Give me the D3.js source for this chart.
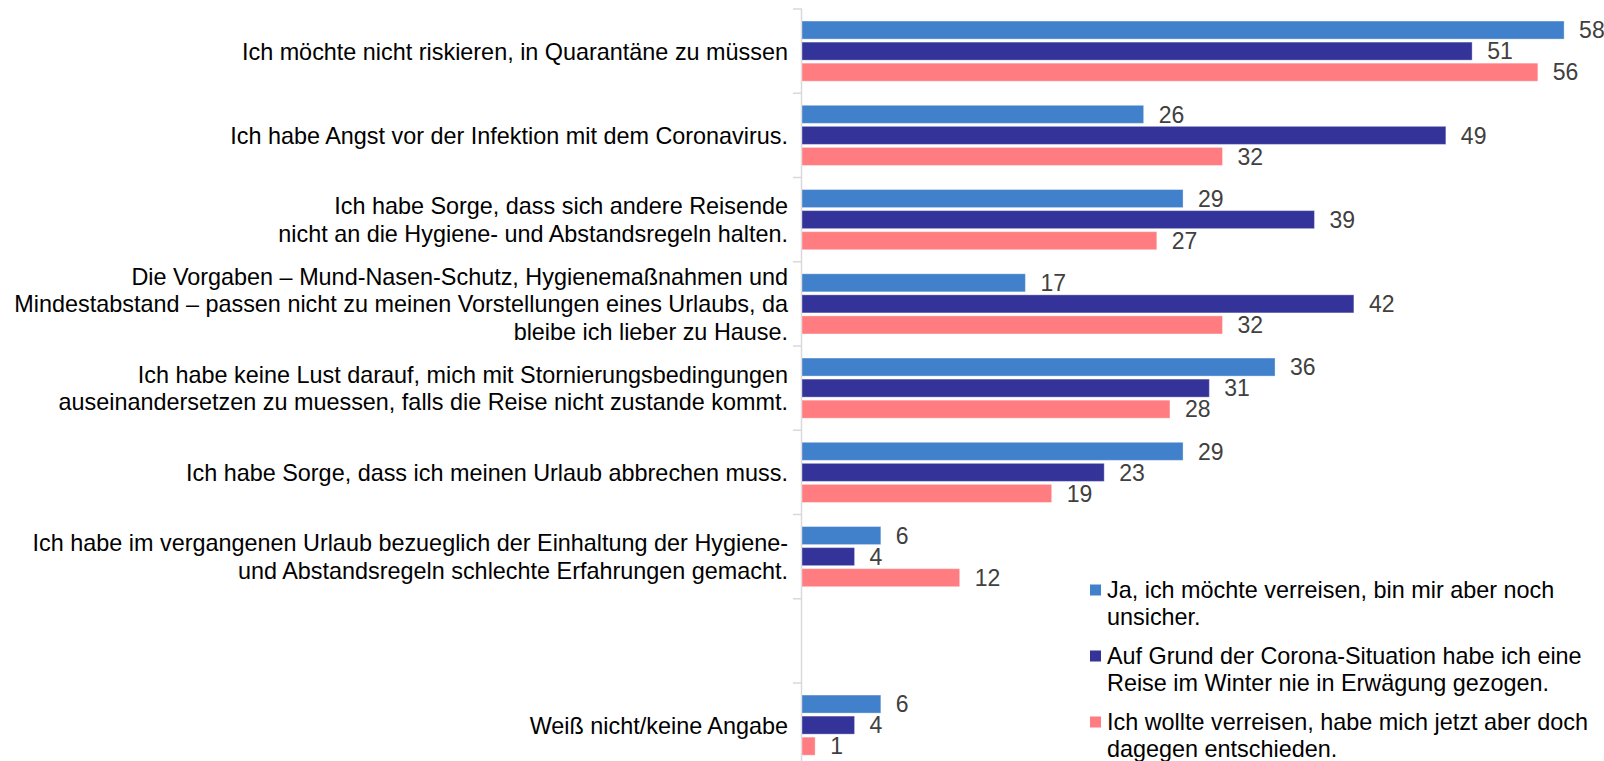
<!DOCTYPE html>
<html>
<head>
<meta charset="utf-8">
<script src="https://cdn.jsdelivr.net/npm/d3@7"></script>
<style>
  body { margin: 0; background: #fff; }
  svg { display: block; font-family: "Liberation Sans", Arial, sans-serif; }
</style>
</head>
<body>
<svg></svg>
<script>
// categories (\n = line break), one empty slot like in the original
let categories = [
    'Ich möchte nicht riskieren, in Quarantäne zu müssen',
    'Ich habe Angst vor der Infektion mit dem Coronavirus.',
    'Ich habe Sorge, dass sich andere Reisende\nnicht an die Hygiene- und Abstandsregeln halten.',
    'Die Vorgaben – Mund-Nasen-Schutz, Hygienemaßnahmen und\nMindestabstand – passen nicht zu meinen Vorstellungen eines Urlaubs, da\nbleibe ich lieber zu Hause.',
    'Ich habe keine Lust darauf, mich mit Stornierungsbedingungen\nauseinandersetzen zu muessen, falls die Reise nicht zustande kommt.',
    'Ich habe Sorge, dass ich meinen Urlaub abbrechen muss.',
    'Ich habe im vergangenen Urlaub bezueglich der Einhaltung der Hygiene-\nund Abstandsregeln schlechte Erfahrungen gemacht.',
    '',
    'Weiß nicht/keine Angabe'
];

let seriesNames = [
    'Ja, ich möchte verreisen, bin mir aber noch\nunsicher.',
    'Auf Grund der Corona-Situation habe ich eine\nReise im Winter nie in Erwägung gezogen.',
    'Ich wollte verreisen, habe mich jetzt aber doch\ndagegen entschieden.'
];

let unsure   = [58, 26, 29, 17, 36, 29, 6, null, 6];
let never    = [51, 49, 39, 42, 31, 23, 4, null, 4];
let decided  = [56, 32, 27, 32, 28, 19, 12, null, 1];

let colors = ['#4180CA', '#333399', '#FF7C80'];
let series = [unsure, never, decided];

let svgWidth = 1604, svgHeight = 761;
let axisX = 802, topY = 9, bandH = 84.25;
let fontSize = 23.4, valueSize = 23;

let svg = d3.select('svg')
    .attr('width', svgWidth)
    .attr('height', svgHeight);

let y0 = d3.scaleBand()
    .domain(d3.range(categories.length))
    .range([topY, topY + bandH * categories.length])
    .paddingInner(0.286)
    .paddingOuter(0.143);

let y1 = d3.scaleBand()
    .domain(d3.range(series.length))
    .range([0, y0.bandwidth()])
    .paddingInner(0.143);

let x = d3.scaleLinear()
    .domain([0, 60])
    .range([axisX, axisX + 60 * 13.14]);

// axis line + tick marks on band boundaries
svg.append('line')
    .attr('x1', axisX - 0.5).attr('x2', axisX - 0.5)
    .attr('y1', topY).attr('y2', svgHeight)
    .attr('stroke', '#d9d9d9').attr('stroke-width', 1.5);

svg.selectAll('.tick')
    .data(d3.range(categories.length))
    .enter()
    .append('line')
    .attr('class', 'tick')
    .attr('x1', axisX - 9).attr('x2', axisX)
    .attr('y1', d => y0.step() * d + topY)
    .attr('y2', d => y0.step() * d + topY)
    .attr('stroke', '#d9d9d9').attr('stroke-width', 1.5);

// bars
series.forEach(function(vals, s) {
    let g = svg.append('g');
    let rows = vals.map((v, i) => ({ v: v, i: i })).filter(d => d.v != null);

    g.selectAll('rect')
        .data(rows)
        .enter()
        .append('rect')
        .attr('x', x(0))
        .attr('y', d => y0(d.i) + y1(s))
        .attr('width', d => x(d.v) - x(0))
        .attr('height', y1.bandwidth())
        .attr('fill', colors[s])
        .attr('stroke', 'rgba(255,255,255,0.35)')
        .attr('stroke-width', 1);

    g.selectAll('text')
        .data(rows)
        .enter()
        .append('text')
        .attr('x', d => x(d.v) + 15)
        .attr('y', d => y0(d.i) + y1(s) + y1.bandwidth() / 2)
        .attr('dy', '0.36em')
        .attr('font-size', valueSize)
        .attr('fill', '#404040')
        .text(d => d.v);
});

// category labels
let lineH = 27.5;
categories.forEach(function(c, i) {
    if (!c) return;
    let lines = c.split('\n');
    let mid = y0(i) + y0.bandwidth() / 2;
    let t = svg.append('text')
        .attr('text-anchor', 'end')
        .attr('font-size', fontSize)
        .attr('fill', '#000');
    lines.forEach(function(l, k) {
        t.append('tspan')
            .attr('x', 788)
            .attr('y', mid + (k - (lines.length - 1) / 2) * lineH)
            .attr('dy', '0.36em')
            .text(l);
    });
});

// legend
let legend = svg.append('g').attr('transform', 'translate(1090, 590)');
seriesNames.forEach(function(name, s) {
    let gy = s * 66;
    legend.append('rect')
        .attr('x', 0).attr('y', gy - 5.5)
        .attr('width', 11).attr('height', 11)
        .attr('fill', colors[s]);
    let t = legend.append('text')
        .attr('font-size', fontSize)
        .attr('fill', '#000');
    name.split('\n').forEach(function(l, k) {
        t.append('tspan')
            .attr('x', 17)
            .attr('y', gy + k * 27)
            .attr('dy', '0.36em')
            .text(l);
    });
});
</script>
</body>
</html>
